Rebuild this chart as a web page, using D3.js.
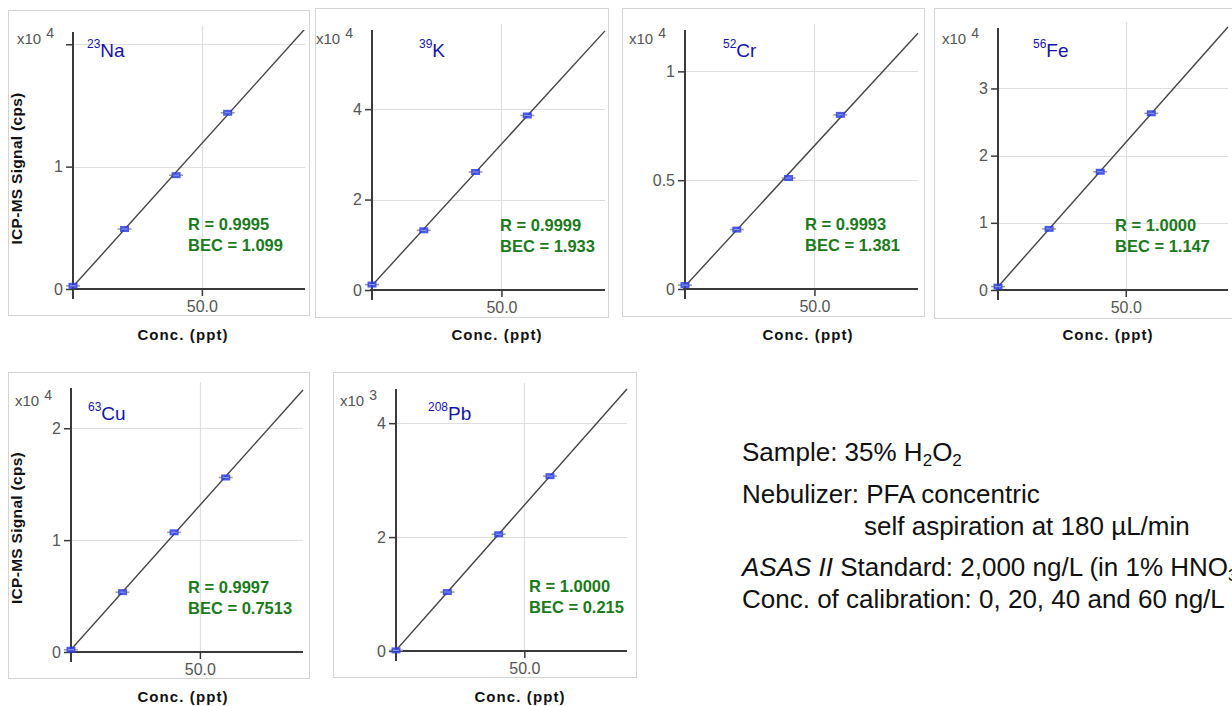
<!DOCTYPE html>
<html><head><meta charset="utf-8">
<script src="https://cdn.jsdelivr.net/npm/d3@7"></script>
<style>
html,body{margin:0;padding:0;background:#fff;}
svg{display:block;font-family:"Liberation Sans",Arial,sans-serif;}
</style></head>
<body>
<svg id="chart" width="1232" height="706"></svg>
<script>
// ---------- data ----------
const elements = ["Na", "K", "Cr", "Fe", "Cu", "Pb"];
const isotopes = ["23", "39", "52", "56", "63", "208"];
const conc = [0, 20, 40, 60];                 // ppt
const naSignal = [0.026, 0.49, 0.93, 1.44];   // x10^4 cps
const kSignal  = [0.12, 1.32, 2.61, 3.86];    // x10^4 cps
const crSignal = [0.018, 0.273, 0.51, 0.80];  // x10^4 cps
const feSignal = [0.05, 0.91, 1.76, 2.63];    // x10^4 cps
const cuSignal = [0.02, 0.535, 1.07, 1.56];   // x10^4 cps
const pbSignal = [0.011, 1.035, 2.05, 3.07];  // x10^3 cps
const signals = [naSignal, kSignal, crSignal, feSignal, cuSignal, pbSignal];
const rValues = ["0.9995", "0.9999", "0.9993", "1.0000", "0.9997", "1.0000"];
const becValues = ["1.099", "1.933", "1.381", "1.147", "0.7513", "0.215"];
const exponents = ["4", "4", "4", "4", "4", "3"];
const yTicks = [[0, 1, 2], [0, 2, 4], [0, 0.5, 1], [0, 1, 2, 3], [0, 1, 2], [0, 2, 4]];
const yHiddenLabels = [[2], [], [], [], [], []];
const yMax = [2.1, 5.75, 1.19, 3.9, 2.36, 4.6];
const xMax = 90;
const xTicks = [50];
const xTickFormat = d3.format(".1f");
const yLabel = "ICP-MS Signal (cps)";
const xLabel = "Conc. (ppt)";
const infoLines = [
  [{t: "Sample: 35% H"}, {t: "2", sub: true}, {t: "O"}, {t: "2", sub: true}],
  [{t: "Nebulizer: PFA concentric"}],
  [{t: "self aspiration at 180 \u00b5L/min"}],
  [{t: "ASAS II", it: true}, {t: " Standard: 2,000 ng/L (in 1% HNO"}, {t: "3", sub: true}, {t: ")"}],
  [{t: "Conc. of calibration: 0, 20, 40 and 60 ng/L"}]
];

// ---------- layout ----------
const layout = [
  {frame: [8, 10, 301, 305],  x0: 73,  y0: 289, top: 32,  right: 305,  titleX: 87,   rX: 188,  xlx: 183,  row: 0, ytitle: true},
  {frame: [315, 8, 293, 309], x0: 372, y0: 290, top: 30,  right: 605,  titleX: 419,  rX: 500,  xlx: 497,  row: 0},
  {frame: [622, 8, 302, 308], x0: 685, y0: 289, top: 30,  right: 918,  titleX: 723,  rX: 805,  xlx: 808,  row: 0},
  {frame: [934, 8, 310, 310], x0: 998, y0: 290, top: 28,  right: 1228, titleX: 1033, rX: 1115, xlx: 1108, row: 0},
  {frame: [8, 372, 301, 306], x0: 71,  y0: 652, top: 388, right: 303,  titleX: 88,   rX: 188,  xlx: 183,  row: 1, ytitle: true},
  {frame: [333, 372, 303, 305], x0: 396, y0: 651, top: 389, right: 627, titleX: 428,  rX: 529,  xlx: 520,  row: 1}
];
const rowTitleY = [57, 420];
const rowExpY = [44, 406];
const rowXLabelY = [340, 702];

const svg = d3.select("#chart");
const axisColor = "#3a3a3a", gridColor = "#dedede", tickColor = "#555";

elements.forEach((el, i) => {
  const L = layout[i];
  const g = svg.append("g");
  const x = d3.scaleLinear().domain([0, xMax]).range([L.x0, L.right]);
  const y = d3.scaleLinear().domain([0, yMax[i]]).range([L.y0, L.top]);

  // frame
  g.append("rect").attr("x", L.frame[0] + 0.5).attr("y", L.frame[1] + 0.5)
    .attr("width", L.frame[2]).attr("height", L.frame[3])
    .attr("fill", "#fff").attr("stroke", "#d4d4d4");

  // grid
  g.selectAll(".hg").data(yTicks[i].filter(v => v > 0)).enter().append("line")
    .attr("x1", L.x0).attr("x2", L.right)
    .attr("y1", d => Math.round(y(d)) + 0.5).attr("y2", d => Math.round(y(d)) + 0.5)
    .attr("stroke", gridColor).attr("stroke-width", 1.2);
  g.selectAll(".vg").data(xTicks).enter().append("line")
    .attr("x1", d => Math.round(x(d)) + 0.5).attr("x2", d => Math.round(x(d)) + 0.5)
    .attr("y1", L.top - 6).attr("y2", L.y0)
    .attr("stroke", gridColor).attr("stroke-width", 1.2);

  // axes via d3
  const yAxis = d3.axisLeft(y).tickValues(yTicks[i]).tickSize(7).tickPadding(3)
    .tickFormat(d => yHiddenLabels[i].includes(d) ? "" : d3.format("~g")(d));
  const ya = g.append("g").attr("transform", `translate(${L.x0},0)`).call(yAxis);
  const xAxis = d3.axisBottom(x).tickValues(xTicks).tickSize(7).tickPadding(5).tickFormat(xTickFormat);
  const xa = g.append("g").attr("transform", `translate(0,${L.y0})`).call(xAxis);
  [ya, xa].forEach(a => {
    a.select(".domain").remove();
    a.selectAll(".tick line").attr("stroke", axisColor).attr("stroke-width", 1.5);
    a.selectAll(".tick text").attr("fill", tickColor).attr("font-size", 16)
      .attr("font-family", "'Liberation Sans', Arial, sans-serif");
  });
  // axis lines
  g.append("line").attr("x1", L.x0).attr("x2", L.x0).attr("y1", L.top).attr("y2", L.y0 + 10)
    .attr("stroke", axisColor).attr("stroke-width", 2);
  g.append("line").attr("x1", L.x0 - 2).attr("x2", L.right).attr("y1", L.y0).attr("y2", L.y0)
    .attr("stroke", axisColor).attr("stroke-width", 2);

  // exponent label
  const ex = g.append("text").attr("x", L.x0 - 56).attr("y", rowExpY[L.row])
    .attr("fill", tickColor).attr("font-size", 15);
  ex.append("tspan").text("x10");
  ex.append("tspan").attr("dx", 5).attr("dy", -6).attr("font-size", 14).text(exponents[i]);

  // fit line (least squares through the calibration points), clipped to plot
  const clipId = "clip" + i;
  svg.append("clipPath").attr("id", clipId).append("rect")
    .attr("x", L.x0).attr("y", L.top - 2).attr("width", L.right - L.x0 + 2).attr("height", L.y0 - L.top + 4);
  const s = signals[i];
  const mx = d3.mean(conc), my = d3.mean(s);
  const slope = d3.sum(conc, (c, k) => (c - mx) * (s[k] - my)) / d3.sum(conc, c => (c - mx) * (c - mx));
  const icpt = my - slope * mx;
  g.append("line").attr("clip-path", `url(#${clipId})`)
    .attr("x1", x(0)).attr("y1", y(icpt)).attr("x2", x(xMax)).attr("y2", y(icpt + slope * xMax))
    .attr("stroke", "#444").attr("stroke-width", 1.4);

  // points with error-bar glyphs
  const pts = g.selectAll(".pt").data(conc.map((c, k) => ({c, v: s[k]}))).enter().append("g")
    .attr("transform", d => `translate(${x(d.c)},${y(d.v)})`);
  pts.append("line").attr("x1", -7).attr("x2", 7).attr("y1", 0).attr("y2", 0)
    .attr("stroke", "#9a9a9a").attr("stroke-width", 1.5);
  pts.append("rect").attr("x", -4.5).attr("y", -3).attr("width", 9).attr("height", 6)
    .attr("fill", "#2f3fe0").attr("opacity", 0.85);
  pts.append("line").attr("x1", -3).attr("x2", 3).attr("y1", 0).attr("y2", 0)
    .attr("stroke", "#8fa0ff").attr("stroke-width", 1);

  // isotope title
  const t = g.append("text").attr("x", L.titleX).attr("y", rowTitleY[L.row]).attr("fill", "#1515a5");
  t.append("tspan").attr("font-size", 12).attr("dy", -9).text(isotopes[i]);
  t.append("tspan").attr("font-size", 19).attr("dy", 9).text(el);

  // R and BEC
  g.append("text").attr("x", L.rX).attr("y", L.y0 - 59).attr("fill", "#1c7a1c")
    .attr("font-size", 16.5).attr("font-weight", "bold").text("R = " + rValues[i]);
  g.append("text").attr("x", L.rX).attr("y", L.y0 - 38).attr("fill", "#1c7a1c")
    .attr("font-size", 16.5).attr("font-weight", "bold").text("BEC = " + becValues[i]);

  // axis titles
  g.append("text").attr("x", L.xlx).attr("y", rowXLabelY[L.row]).attr("text-anchor", "middle")
    .attr("font-size", 15).attr("font-weight", "bold").attr("letter-spacing", 1.1).attr("fill", "#111")
    .text(xLabel);
  if (L.ytitle) {
    const cy = (L.top + L.y0) / 2 + 8;
    g.append("text").attr("transform", `translate(22,${cy}) rotate(-90)`).attr("text-anchor", "middle")
      .attr("font-size", 15.5).attr("font-weight", "bold").attr("letter-spacing", 0.3).attr("fill", "#111")
      .text(yLabel);
  }
});

// ---------- info text ----------
const infoPos = [[742, 461], [742, 503], [864, 535], [742, 576], [742, 608]];
infoLines.forEach((parts, i) => {
  const tx = svg.append("text").attr("x", infoPos[i][0]).attr("y", infoPos[i][1])
    .attr("font-size", 26).attr("fill", "#111");
  let shifted = 0;
  parts.forEach(p => {
    const ts = tx.append("tspan").text(p.t);
    if (p.it) ts.attr("font-style", "italic");
    if (p.sub) { ts.attr("font-size", 17).attr("dy", 5 - shifted); shifted = 5; }
    else if (shifted) { ts.attr("dy", -shifted); shifted = 0; }
  });
});
</script>
</body></html>
